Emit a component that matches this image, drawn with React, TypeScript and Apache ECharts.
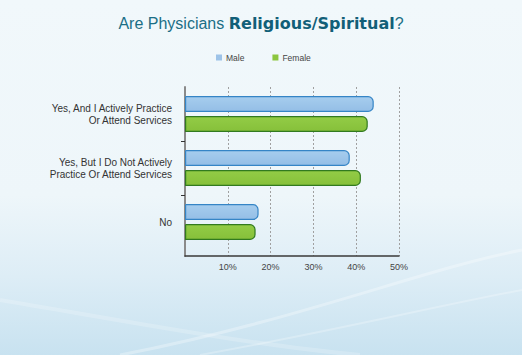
import React, { useEffect, useRef } from "react";
import * as echarts from "echarts";

const categories = [
  "Yes, And I Actively Practice\nOr Attend Services",
  "Yes, But I Do Not Actively\nPractice Or Attend Services",
  "No",
];
const maleValues = [44.1, 38.5, 17.2];
const femaleValues = [42.7, 41.1, 16.5];
const seriesNames = ["Male", "Female"];
const xTicks = [0, 10, 20, 30, 40, 50];
const separatorTicks = [1, 2];

const SANS = "'Liberation Sans', Arial, sans-serif";

export default function App() {
  const ref = useRef<HTMLDivElement>(null);
  useEffect(() => {
    if (!ref.current) return;
    const chart = echarts.init(ref.current, undefined, { renderer: "svg" });
    const grad = (a: string, b: string) =>
      new echarts.graphic.LinearGradient(0, 0, 0, 1, [
        { offset: 0, color: a },
        { offset: 1, color: b },
      ]);
    chart.setOption({
      animation: false,
      backgroundColor: {
        type: "linear",
        x: 0,
        y: 0,
        x2: 0,
        y2: 1,
        colorStops: [
          { offset: 0, color: "#f1f8fb" },
          { offset: 0.55, color: "#eef6fa" },
          { offset: 0.78, color: "#ddedf6" },
          { offset: 1, color: "#c8e2f0" },
        ],
      },
      graphic: [
        {
          type: "bezierCurve",
          silent: true,
          z: -10,
          shape: { x1: 120, y1: 355, x2: 522, y2: 250, cpx1: 300, cpy1: 320, cpx2: 420, cpy2: 270 },
          style: { stroke: "rgba(255,255,255,0.3)", lineWidth: 3, fill: "none" },
        },
        {
          type: "bezierCurve",
          silent: true,
          z: -10,
          shape: { x1: 200, y1: 355, x2: 522, y2: 290, cpx1: 340, cpy1: 330, cpx2: 440, cpy2: 305 },
          style: { stroke: "rgba(255,255,255,0.25)", lineWidth: 2, fill: "none" },
        },
        {
          type: "bezierCurve",
          silent: true,
          z: -10,
          shape: { x1: 0, y1: 300, x2: 360, y2: 355, cpx1: 120, cpy1: 320, cpx2: 250, cpy2: 345 },
          style: { stroke: "rgba(255,255,255,0.2)", lineWidth: 4, fill: "none" },
        },
      ],
      title: {
        left: "center",
        top: 10,
        text: "{a|Are Physicians }{b|Religious/Spiritual}{a|?}",
        textStyle: {
          rich: {
            a: { fontFamily: SANS, fontSize: 16, color: "#1b6f86", fontWeight: "normal" },
            b: { fontFamily: "'DejaVu Sans', sans-serif", fontSize: 16, color: "#125f78", fontWeight: "bold" },
          },
        },
      },
      legend: {
        left: 216,
        top: 53,
        padding: 0,
        icon: "rect",
        itemWidth: 6,
        itemHeight: 6,
        itemGap: 28,
        textStyle: { fontFamily: SANS, fontSize: 8.5, color: "#444", padding: [0, 0, 0, -1] },
        data: [
          { name: seriesNames[0], itemStyle: { color: "#9dc3e8", borderWidth: 0 } },
          { name: seriesNames[1], itemStyle: { color: "#8cc63f", borderWidth: 0 } },
        ],
      },
      grid: [
        { left: 185, top: 87, right: 123, bottom: 99 },
        { left: 185, top: 87, right: 123, bottom: 106 },
      ],
      xAxis: [
        {
          type: "value",
          gridIndex: 0,
          position: "bottom",
          min: 0,
          max: 50,
          interval: 10,
          axisLine: { show: true, onZero: false, lineStyle: { color: "#3a3a3a", width: 1.5 } },
          axisTick: { show: false },
          axisLabel: {
            fontFamily: SANS,
            fontSize: 9,
            color: "#444",
            margin: 6,
            formatter: (v: number) => (xTicks.indexOf(v) > 0 ? v + "%" : ""),
          },
          splitLine: { show: true, lineStyle: { color: "#a0a0a0", type: [2, 2], width: 1 } },
        },
        {
          type: "value",
          gridIndex: 1,
          min: 0,
          max: 50,
          interval: 10,
          show: false,
        },
      ],
      yAxis: [
        {
          type: "value",
          gridIndex: 0,
          inverse: true,
          min: 0,
          max: 169 / 54,
          axisLine: { show: true, onZero: false, lineStyle: { color: "#8a8a8a", width: 2 } },
          axisTick: {
            show: true,
            length: 4,
            lineStyle: { color: "#333" },
            customValues: separatorTicks,
          },
          axisLabel: { show: false },
          splitLine: { show: false },
        },
        {
          type: "category",
          gridIndex: 1,
          inverse: true,
          data: categories,
          axisLine: { show: false },
          axisTick: { show: false },
          axisLabel: {
            fontFamily: SANS,
            fontSize: 10,
            lineHeight: 12,
            color: "#333",
            margin: 13,
            align: "right",
            padding: [4, 0, 0, 0],
          },
        },
      ],
      series: [
        {
          name: seriesNames[0],
          type: "bar",
          xAxisIndex: 1,
          yAxisIndex: 1,
          data: maleValues,
          barWidth: 16,
          barGap: "25%",
          itemStyle: {
            color: grad("#a6cdee", "#94bee6"),
            borderColor: "#3585c6",
            borderWidth: 1.2,
            borderRadius: [0, 5, 5, 0],
          },
        },
        {
          name: seriesNames[1],
          type: "bar",
          xAxisIndex: 1,
          yAxisIndex: 1,
          data: femaleValues,
          barWidth: 16,
          barGap: "25%",
          itemStyle: {
            color: grad("#93cc46", "#86c03a"),
            borderColor: "#317a1f",
            borderWidth: 1.2,
            borderRadius: [0, 5, 5, 0],
          },
        },
      ],
    });
    return () => chart.dispose();
  }, []);
  return (
    <div
      ref={ref}
      style={{ position: "absolute", left: 0, top: 0, width: 522, height: 355 }}
    />
  );
}
